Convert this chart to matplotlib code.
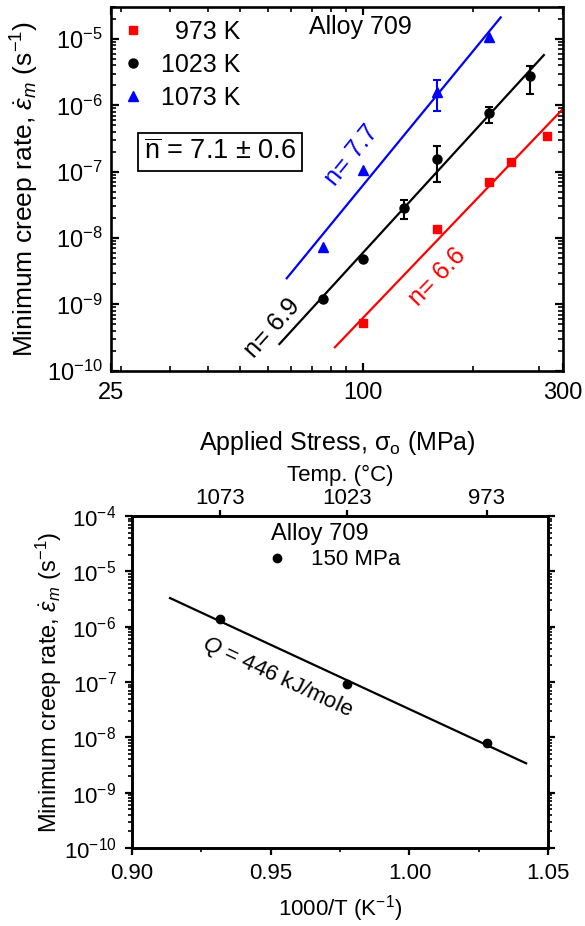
import numpy as np
import matplotlib
matplotlib.use('Agg')
import matplotlib.pyplot as plt
from matplotlib.ticker import FixedLocator, NullFormatter, LogLocator, FixedFormatter

plt.rcParams['font.family'] = ['Liberation Sans', 'DejaVu Sans']
plt.rcParams['mathtext.fontset'] = 'custom'
plt.rcParams['mathtext.rm'] = 'Liberation Sans'
plt.rcParams['mathtext.it'] = 'Liberation Sans:italic'
plt.rcParams['mathtext.bf'] = 'Liberation Sans:bold'
plt.rcParams['axes.linewidth'] = 1.9
plt.rcParams['axes.unicode_minus'] = False

nan = np.nan
# ---------------- data: stress dependence ----------------
stress_973 = [100, 150, 200, 225, 275]
rate_973 = [5.2e-10, 1.38e-8, 6.9e-8, 1.38e-7, 3.4e-7]

stress_1023 = [80, 100, 125, 150, 200, 250]
rate_1023 = [1.2e-9, 4.85e-9, 2.82e-8, 1.55e-7, 7.65e-7, 2.73e-6]
err_lo_1023 = [nan, nan, 1.95e-8, 7.1e-8, 5.4e-7, 1.5e-6]
err_hi_1023 = [nan, nan, 3.68e-8, 2.4e-7, 9.6e-7, 3.95e-6]

stress_1073 = [80, 100, 150, 200]
rate_1073 = [7.4e-9, 1.07e-7, 1.57e-6, 1.06e-5]
err_lo_1073 = [nan, nan, 8.1e-7, nan]
err_hi_1073 = [nan, nan, 2.43e-6, nan]

fit_n_973, fit_n_1023, fit_n_1073 = 6.6, 6.9, 7.7
fit_range_973 = [85.6, 300]
fit_range_1023 = [63.1, 270]
fit_range_1073 = [65.7, 213]

x_major_ticks = [25, 100, 300]
x_major_labels = ['25', '100', '300']
x_minor_ticks = [26.4, 34.6, 42.7, 50.8, 59.2, 67.3, 75.4, 83.6, 91.0, 182.6, 263.5]

# ---------------- data: temperature dependence ----------------
temps_K = [1073, 1023, 973]
temp_labels = ['1073', '1023', '973']
rate_150MPa = [1.36e-6, 9.2e-8, 7.8e-9]
Q_kJ = 446.0
arrh_range = [0.9138, 1.042]

R = 8.314

fig = plt.figure(figsize=(5.85, 9.26), dpi=100)

# ======================= top panel =======================
ax = fig.add_axes([0.1897, 0.5997, 0.9624 - 0.1897, 0.99244 - 0.5997])
ax.set_xscale('log')
ax.set_yscale('log')
ax.set_xlim(25, 300)
ax.set_ylim(1e-10, 3.04e-5)

def fit_line(s, r, n, rng):
    s = np.asarray(s, float); r = np.asarray(r, float)
    logA = np.mean(np.log10(r) - n * np.log10(s))
    xs = np.logspace(np.log10(rng[0]), np.log10(rng[1]), 50)
    return xs, 10 ** (logA + n * np.log10(xs))

for s, r, n, rng, c in [(stress_973, rate_973, fit_n_973, fit_range_973, 'red'),
                        (stress_1023, rate_1023, fit_n_1023, fit_range_1023, 'black'),
                        (stress_1073, rate_1073, fit_n_1073, fit_range_1073, 'blue')]:
    xs, ys = fit_line(s, r, n, rng)
    ax.plot(xs, ys, color=c, lw=1.6, zorder=2)

def errs(s, r, lo, hi, c):
    s = np.asarray(s, float); r = np.asarray(r, float)
    lo = np.asarray(lo, float); hi = np.asarray(hi, float)
    m = ~np.isnan(lo)
    ax.errorbar(s[m], r[m], yerr=[r[m] - lo[m], hi[m] - r[m]], fmt='none',
                ecolor=c, elinewidth=1.5, capsize=3, capthick=1.5, zorder=3)

errs(stress_1023, rate_1023, err_lo_1023, err_hi_1023, 'black')
errs(stress_1073, rate_1073, err_lo_1073, err_hi_1073, 'blue')

ax.plot(stress_973, rate_973, 's', color='red', ms=6, ls='none', label='  973 K', zorder=4)
ax.plot(stress_1023, rate_1023, 'o', color='black', ms=6.5, ls='none', label='1023 K', zorder=4)
ax.plot(stress_1073, rate_1073, '^', color='blue', ms=7, ls='none', label='1073 K', zorder=4)

leg = ax.legend(loc='upper left', bbox_to_anchor=(0.005, 0.985), frameon=False,
                fontsize=18, handlelength=1.0, handletextpad=0.6, labelspacing=0.36,
                borderpad=0.1, borderaxespad=0.2)

ax.xaxis.set_major_locator(FixedLocator(x_major_ticks))
ax.xaxis.set_major_formatter(FixedFormatter(x_major_labels))
ax.xaxis.set_minor_locator(FixedLocator(x_minor_ticks))
ax.xaxis.set_minor_formatter(NullFormatter())
ax.yaxis.set_major_locator(LogLocator(base=10, numticks=20))
ax.yaxis.set_minor_locator(LogLocator(base=10, subs=np.arange(2, 10), numticks=20))
ax.yaxis.set_minor_formatter(NullFormatter())
ax.tick_params(which='both', direction='in', top=True, right=True, labelsize=17)
ax.tick_params(which='major', length=6, width=1.6, pad=8)
ax.tick_params(which='minor', length=3.5, width=1.2)
ax.tick_params(axis='y', which='major', pad=6)

ax.set_xlabel('Applied Stress, \u03c3$_\\mathrm{o}$ (MPa)', fontsize=18, labelpad=18)
ax.set_ylabel(r'Minimum creep rate, $\dot{\varepsilon}_m$ (s$^{-1}$)', fontsize=19, labelpad=4)

ax.text(0.551, 0.944, 'Alloy 709', transform=ax.transAxes, ha='center', va='center', fontsize=18)
ax.text(0.241, 0.601, r'$\overline{\mathrm{n}}$ = 7.1 $\pm$ 0.6', transform=ax.transAxes,
        ha='center', va='center', fontsize=19.5,
        bbox=dict(boxstyle='square,pad=0.22', fc='white', ec='black', lw=1.3))
ax.text(0.533, 0.593, 'n= 7.7', transform=ax.transAxes, ha='center', va='center',
        fontsize=18, color='blue', rotation=51)
ax.text(0.358, 0.117, 'n= 6.9', transform=ax.transAxes, ha='center', va='center',
        fontsize=18, color='black', rotation=48)
ax.text(0.723, 0.258, 'n= 6.6', transform=ax.transAxes, ha='center', va='center',
        fontsize=18, color='red', rotation=46)

# ======================= bottom panel =======================
bx = fig.add_axes([0.2251, 0.08423, 0.9373 - 0.2251, 0.44276 - 0.08423])
bx.set_yscale('log')
bx.set_xlim(0.90, 1.05)
bx.set_ylim(1e-10, 1e-4)

invT = 1000.0 / np.asarray(temps_K, float)
slope = Q_kJ * 1000.0 / (R * np.log(10)) / 1000.0  # decades per unit of 1000/T
logA = np.mean(np.log10(rate_150MPa) + slope * invT)
xl = np.linspace(arrh_range[0], arrh_range[1], 50)
bx.plot(xl, 10 ** (logA - slope * xl), color='black', lw=1.6, zorder=2)
bx.plot(invT, rate_150MPa, 'o', color='black', ms=6, ls='none', label='150 MPa', zorder=3)

bx.legend(loc='center left', bbox_to_anchor=(0.323, 0.868), frameon=False, fontsize=16,
          handlelength=1.0, handletextpad=1.0, borderpad=0, borderaxespad=0)
bx.text(0.452, 0.946, 'Alloy 709', transform=bx.transAxes, ha='center', va='center', fontsize=17)
bx.text(0.349, 0.515, r'$Q$ = 446 kJ/mole', transform=bx.transAxes, ha='center', va='center',
        fontsize=16, rotation=-25)

bx.xaxis.set_major_locator(FixedLocator([0.90, 0.95, 1.00, 1.05]))
bx.xaxis.set_major_formatter(FixedFormatter(['0.90', '0.95', '1.00', '1.05']))
bx.xaxis.set_minor_locator(FixedLocator([0.925, 0.975, 1.025]))
bx.yaxis.set_major_locator(LogLocator(base=10, numticks=20))
bx.yaxis.set_minor_locator(LogLocator(base=10, subs=np.arange(2, 10), numticks=20))
bx.yaxis.set_minor_formatter(NullFormatter())
bx.tick_params(which='both', direction='out', right=True, top=False, labelsize=16)
bx.tick_params(which='major', length=5, width=1.6, pad=6)
bx.tick_params(which='minor', length=3, width=1.2)
bx.set_xlabel(r'1000/T (K$^{-1}$)', fontsize=16, labelpad=6)
bx.set_ylabel(r'Minimum creep rate, $\dot{\varepsilon}_m$ (s$^{-1}$)', fontsize=17, labelpad=0)

tx = bx.twiny()
tx.set_xlim(bx.get_xlim())
tx.xaxis.set_major_locator(FixedLocator(list(invT)))
tx.xaxis.set_major_formatter(FixedFormatter(temp_labels))
tx.xaxis.set_minor_locator(FixedLocator([]))
tx.tick_params(which='major', direction='out', length=4, width=1.6, labelsize=16, pad=1)
tx.set_xlabel('Temp. (\u00b0C)', fontsize=16, labelpad=5)

fig.savefig('out.png', dpi=100)
